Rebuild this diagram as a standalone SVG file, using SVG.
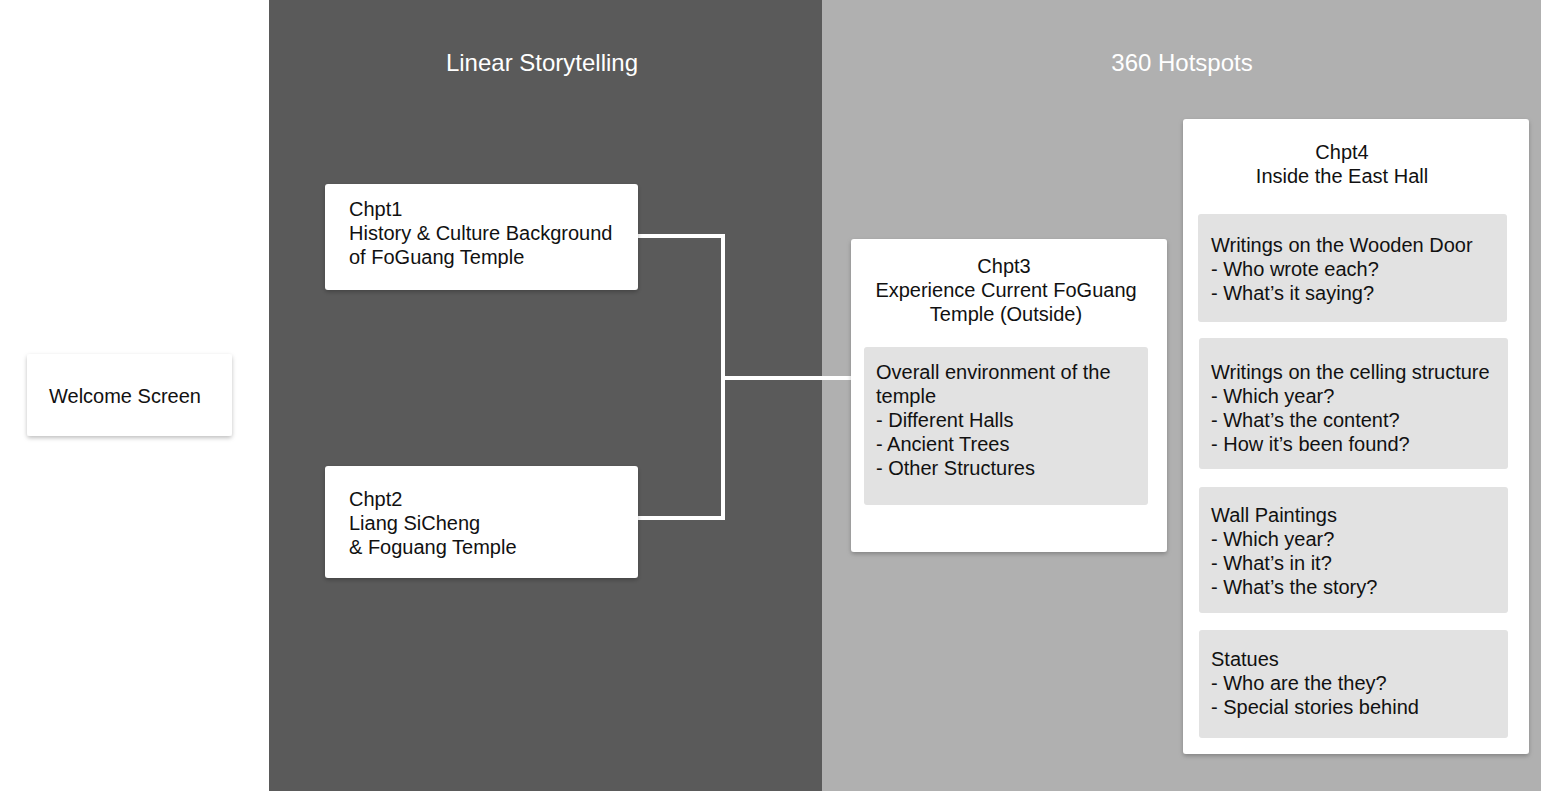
<svg xmlns="http://www.w3.org/2000/svg" width="1541" height="791" viewBox="0 0 1541 791">
<style>
text{font-family:"Liberation Sans",Arial,sans-serif;font-size:20px;fill:#111}
.title{font-size:24px;fill:#fff;text-anchor:middle}
.card{fill:#fff}
.sub{fill:#e2e2e2}
.c{text-anchor:middle}
.conn{stroke:#fff;stroke-width:4;fill:none}
</style>
<defs>
<filter id="sh" x="-10%" y="-10%" width="120%" height="130%">
<feDropShadow dx="0" dy="2" stdDeviation="2" flood-color="#000" flood-opacity="0.25"/>
</filter>
</defs>
<rect x="0" y="0" width="1541" height="791" fill="#fff"/>
<g id="panel-linear">
<rect x="269" y="0" width="553" height="791" fill="#5a5a5a"/>
<text class="title" x="542" y="71">Linear Storytelling</text>
</g>
<g id="panel-hotspots">
<rect x="822" y="0" width="719" height="791" fill="#b0b0b0"/>
<text class="title" x="1182" y="71">360 Hotspots</text>
</g>
<g id="connectors">
<polyline class="conn" points="638,236 723,236 723,518 638,518"/>
<line class="conn" x1="723" y1="378" x2="851" y2="378"/>
</g>
<g id="welcome">
<rect class="card" x="27" y="354" width="205" height="82" rx="3" filter="url(#sh)"/>
<text x="49" y="403">Welcome Screen</text>
</g>
<g id="chpt1">
<rect class="card" x="325" y="184" width="313" height="106" rx="3" filter="url(#sh)"/>
<text x="349" y="216">Chpt1</text>
<text x="349" y="240">History &amp; Culture Background</text>
<text x="349" y="264">of FoGuang Temple</text>
</g>
<g id="chpt2">
<rect class="card" x="325" y="466" width="313" height="112" rx="3" filter="url(#sh)"/>
<text x="349" y="506">Chpt2</text>
<text x="349" y="530">Liang SiCheng</text>
<text x="349" y="554">&amp; Foguang Temple</text>
</g>
<g id="chpt3">
<rect class="card" x="851" y="239" width="316" height="313" rx="3" filter="url(#sh)"/>
<text class="c" x="1004" y="273">Chpt3</text>
<text class="c" x="1006" y="297">Experience Current FoGuang</text>
<text class="c" x="1006" y="321">Temple (Outside)</text>
<rect class="sub" x="864" y="347" width="284" height="158" rx="3"/>
<text x="876" y="379">Overall environment of the</text>
<text x="876" y="403">temple</text>
<text x="876" y="427">- Different Halls</text>
<text x="876" y="451">- Ancient Trees</text>
<text x="876" y="475">- Other Structures</text>
</g>
<g id="chpt4">
<rect class="card" x="1183" y="119" width="346" height="635" rx="3" filter="url(#sh)"/>
<text class="c" x="1342" y="159">Chpt4</text>
<text class="c" x="1342" y="183">Inside the East Hall</text>
<g id="door">
<rect class="sub" x="1198" y="214" width="309" height="108" rx="3"/>
<text x="1211" y="252">Writings on the Wooden Door</text>
<text x="1211" y="276">- Who wrote each?</text>
<text x="1211" y="300">- What’s it saying?</text>
</g>
<g id="ceiling">
<rect class="sub" x="1199" y="338" width="309" height="131" rx="3"/>
<text x="1211" y="379">Writings on the celling structure</text>
<text x="1211" y="403">- Which year?</text>
<text x="1211" y="427">- What’s the content?</text>
<text x="1211" y="451">- How it’s been found?</text>
</g>
<g id="paintings">
<rect class="sub" x="1199" y="487" width="309" height="126" rx="3"/>
<text x="1211" y="522">Wall Paintings</text>
<text x="1211" y="546">- Which year?</text>
<text x="1211" y="570">- What’s in it?</text>
<text x="1211" y="594">- What’s the story?</text>
</g>
<g id="statues">
<rect class="sub" x="1199" y="630" width="309" height="108" rx="3"/>
<text x="1211" y="666">Statues</text>
<text x="1211" y="690">- Who are the they?</text>
<text x="1211" y="714">- Special stories behind</text>
</g>
</g>
</svg>
